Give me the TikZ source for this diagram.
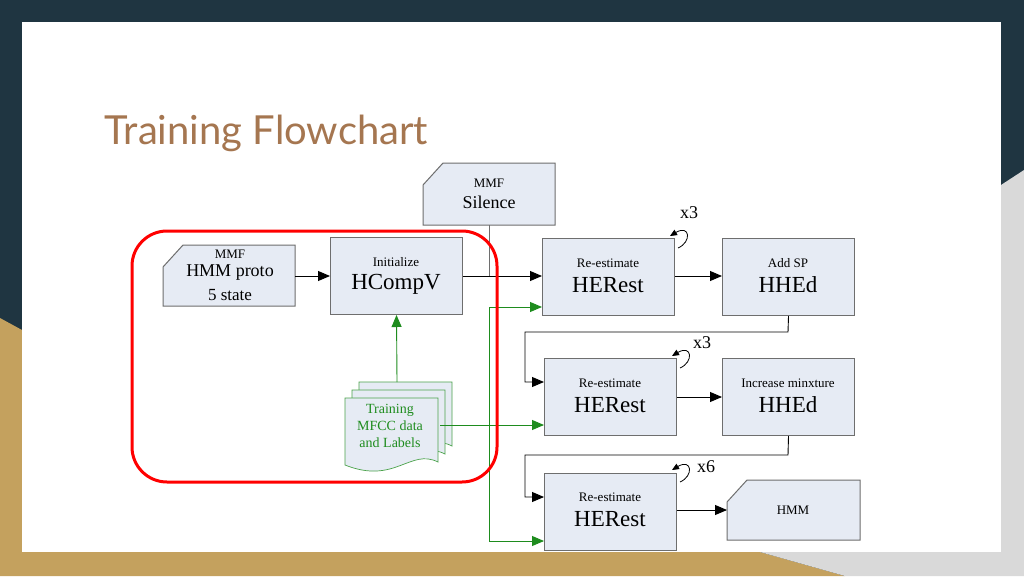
\documentclass[tikz,border=0pt]{standalone}
\usepackage{fontspec}
\setmainfont{Liberation Serif}
\newfontfamily\titlefont{Lato}
\usetikzlibrary{arrows.meta}
\definecolor{navy}{HTML}{1F3541}
\definecolor{gold}{HTML}{C4A15E}
\definecolor{grayr}{HTML}{D9D9D9}
\definecolor{boxfill}{HTML}{E6EBF4}
\definecolor{boxline}{HTML}{6E6E6E}
\definecolor{ttl}{HTML}{A57650}
\definecolor{grn}{HTML}{1E8C1E}
\begin{document}
\begin{tikzpicture}[x=1pt,y=-1pt,
  proc/.style={draw=boxline,fill=boxfill,line width=1pt,minimum width=132pt,minimum height=77pt,anchor=north west,align=center,inner sep=0pt},
  small/.style={font=\fontsize{13}{15}\selectfont},
  big/.style={font=\fontsize{23}{26}\selectfont},
  cut/.style={draw=boxline,fill=boxfill,line width=1pt},
  arr/.style={-{Triangle[length=12pt,width=10pt]},line width=0.9pt},
  garr/.style={-{Triangle[length=12pt,width=10pt]},line width=0.9pt,grn},
  loop/.style={-{Triangle[length=7pt,width=6pt]},line width=0.8pt}]
\useasboundingbox (0,0) rectangle (1024,576);
\fill[navy] (0,0) rectangle (1024,576);
\fill[gold] (0,318) -- (22,330) -- (22,552) -- (760,552) -- (845,576) -- (0,576) -- cycle;
\fill[grayr] (1001,185) -- (1024,170) -- (1024,576) -- (845,576) -- (760,552) -- (1001,552) -- cycle;
\fill[white] (22,22) rectangle (1001,552);
\node[anchor=base west,text=ttl,font=\titlefont\fontsize{40}{44}\selectfont] (title) at (101,144) {Training Flowchart};
% cut-corner boxes
\draw[cut] (423,185) -- (443,163) -- (555,163) -- (555,225) -- (423,225) -- cycle;
\node[small] (silA) at (489,183) {MMF};
\node[font=\fontsize{18}{20}\selectfont] (silB) at (489,202) {Silence};
\coordinate (silbot) at (489,225);
\draw[cut] (163,267) -- (183,245) -- (295,245) -- (295,306) -- (163,306) -- cycle;
\node[small] (prA) at (230,254) {MMF};
\node[font=\fontsize{18}{20}\selectfont] (prB) at (230,273) {HMM proto};
\node[font=\fontsize{17}{20}\selectfont] (prC) at (230,295) {5 state};
\coordinate (prR) at (295,276);
\draw[cut] (727,502) -- (747,480) -- (860,480) -- (860,540) -- (727,540) -- cycle;
\node[small] (hmmT) at (793,510) {HMM};
\coordinate (hmmL) at (727,510);
% process boxes
\node[proc] (hc) at (330,237) {};
\node[small] at (396,262) {Initialize};
\node[big] at (396,284) {HCompV};
\node[proc] (h1) at (542,238) {};
\node[small] at (608,263) {Re-estimate};
\node[big] at (608,285) {HERest};
\node[proc] (d1) at (722,238) {};
\node[small] at (788,263) {Add SP};
\node[big] at (788,285) {HHEd};
\node[proc] (h2) at (544,358) {};
\node[small] at (610,383) {Re-estimate};
\node[big] at (610,405) {HERest};
\node[proc] (d2) at (722,358) {};
\node[small] at (788,383) {Increase minxture};
\node[big] at (788,405) {HHEd};
\node[proc] (h3) at (544,473) {};
\node[small] at (610,497) {Re-estimate};
\node[big] at (610,519) {HERest};
% document stack
\foreach \dx/\dy in {14/-16,7/-8}{
 \draw[draw=grn!80,fill=boxfill,line width=0.7pt] (345+\dx,398+\dy) -- (438+\dx,398+\dy) -- (438+\dx,462+\dy) .. controls (410+\dx,448+\dy) and (395+\dx,480+\dy) .. (345+\dx,462+\dy) -- cycle;}
\draw[draw=grn!80,fill=boxfill,line width=0.7pt] (345,398) -- (438,398) -- (438,462) .. controls (410,448) and (395,485) .. (345,465) -- cycle;
\node[text=grn,align=center,font=\fontsize{14}{17}\selectfont] (doc) at (390,426) {Training\\MFCC data\\and Labels};
\coordinate (doctop) at (397,382);
\coordinate (docR) at (440,425);
% connectors
\draw[arr] (prR) -- (hc.west |- prR);
\draw[arr] (hc.east |- prR) -- (h1.west |- prR);
\draw[line width=0.9pt,boxline] (silbot) -- (489,276);
\draw[arr] (h1.east |- prR) -- (d1.west |- prR);
\draw[arr] (d1.south) -- (788,332) -- (525,332) -- (525,382) -- (h2.west |- 0,382);
\draw[arr] (h2.east |- 0,397) -- (d2.west |- 0,397);
\draw[arr] (d2.south) -- (788,455) -- (525,455) -- (525,497) -- (h3.west |- 0,497);
\draw[arr] (h3.east |- hmmL) -- (hmmL);
\draw[garr] (doctop) -- (hc.south);
\draw[garr] (docR) -- (h2.west |- docR);
\draw[garr] (489,307) -- (489,541) -- (h3.west |- 0,541);
\draw[garr] (489,307) -- (h1.west |- 0,307);
% self loops
\draw[loop] (678,248) .. controls (692,242) and (690,224) .. (670,236);
\node[font=\fontsize{18}{20}\selectfont] (l1) at (689,213) {x3};
\draw[loop] (680,368) .. controls (694,362) and (692,344) .. (672,356);
\node[font=\fontsize{18}{20}\selectfont] (l2) at (702,343) {x3};
\draw[loop] (680,482) .. controls (694,476) and (692,458) .. (672,470);
\node[font=\fontsize{18}{20}\selectfont] (l3) at (706,467) {x6};
% red rounded rectangle
\draw[red,line width=3pt,rounded corners=35pt] (132,231) rectangle (497,482);
\end{tikzpicture}
\end{document}
